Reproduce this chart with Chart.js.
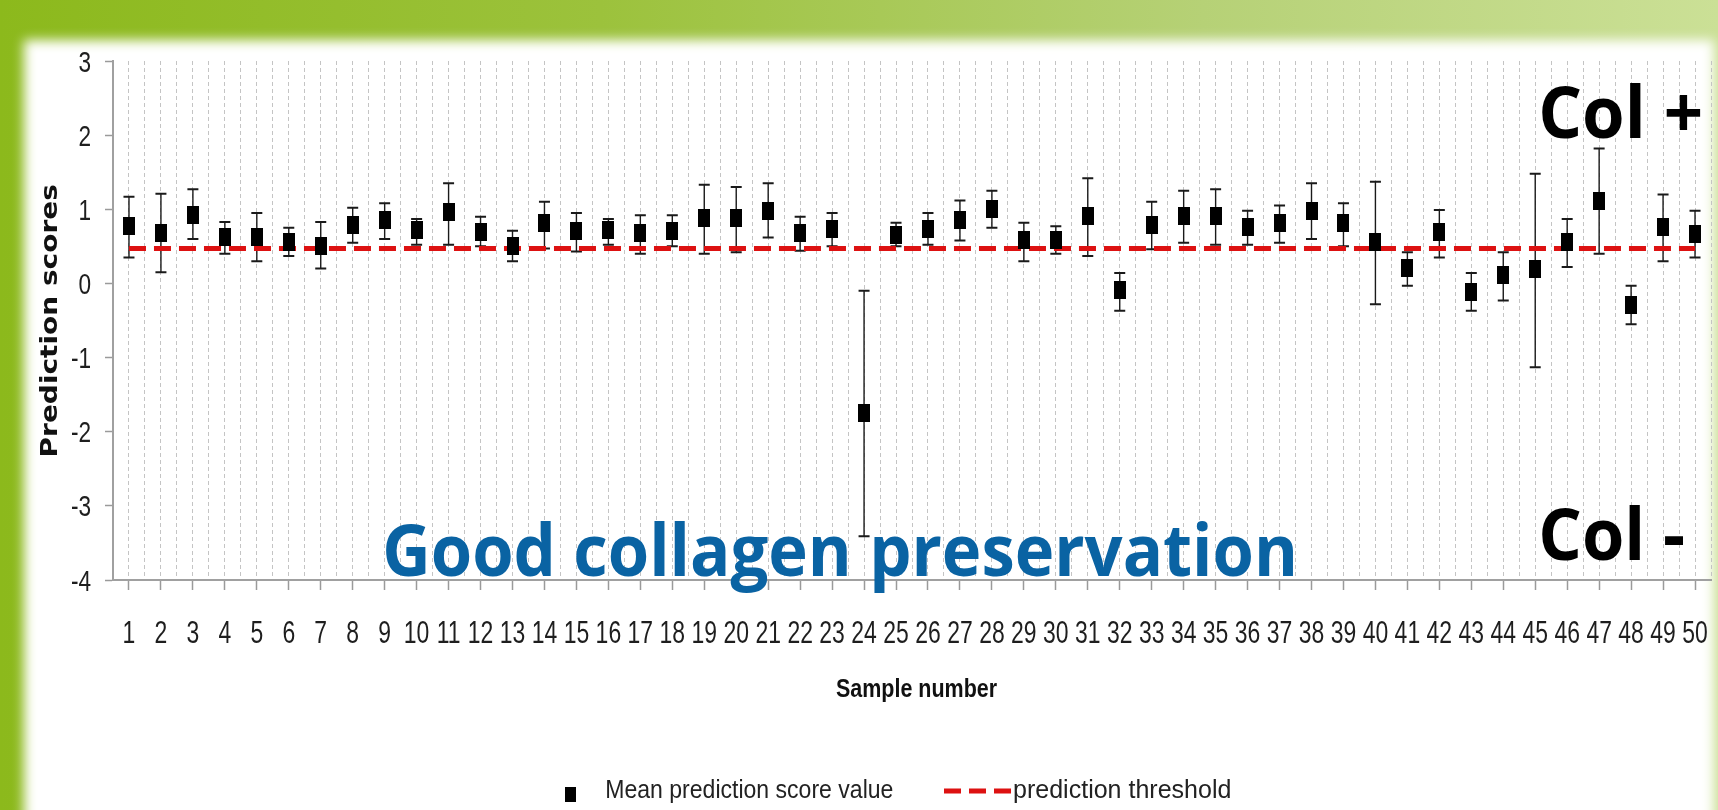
<!DOCTYPE html>
<html>
<head>
<meta charset="utf-8">
<script src="https://cdn.jsdelivr.net/npm/chart.js@4/dist/chart.umd.min.js"></script>
<style>
  html, body { margin: 0; padding: 0; }
  #frame {
    position: relative; width: 1718px; height: 810px; overflow: hidden;
    background: linear-gradient(to right, #8cb91c 0%, #9cc23c 35%, #b6d176 70%, #cbe096 100%);
  }
  #panel {
    position: absolute; left: 24px; top: 40px; width: 1690px; height: 820px;
    background: #fff; filter: blur(6px);
  }
  #chart { position: absolute; left: 0; top: 0; }
</style>
</head>
<body>
<div id="frame">
  <div id="panel"></div>
  <canvas id="chart" width="1718" height="810"></canvas>
</div>
<script>
// Sample numbers (x categories)
const sampleNumbers = [1, 2, 3, 4, 5, 6, 7, 8, 9, 10, 11, 12, 13, 14, 15, 16, 17, 18, 19, 20,
  21, 22, 23, 24, 25, 26, 27, 28, 29, 30, 31, 32, 33, 34, 35, 36, 37, 38, 39, 40,
  41, 42, 43, 44, 45, 46, 47, 48, 49, 50]

// Mean prediction score per sample
const meanScores = [0.78, 0.68, 0.92, 0.62, 0.63, 0.56, 0.50, 0.79, 0.86, 0.72,
  0.96, 0.69, 0.50, 0.82, 0.71, 0.72, 0.68, 0.71, 0.88, 0.88,
  0.98, 0.68, 0.73, -1.75, 0.65, 0.73, 0.86, 1.01, 0.59, 0.59,
  0.91, -0.09, 0.79, 0.91, 0.91, 0.76, 0.81, 0.98, 0.81, 0.56,
  0.21, 0.69, -0.12, 0.11, 0.19, 0.56, 1.11, -0.29, 0.76, 0.66]

// Error bar ends
const upperScores = [1.17, 1.21, 1.27, 0.83, 0.95, 0.75, 0.83, 1.02, 1.08, 0.87,
  1.35, 0.90, 0.71, 1.10, 0.95, 0.87, 0.92, 0.92, 1.33, 1.30,
  1.35, 0.90, 0.95, -0.10, 0.82, 0.95, 1.12, 1.25, 0.82, 0.77,
  1.42, 0.14, 1.10, 1.25, 1.27, 0.98, 1.05, 1.35, 1.08, 1.37,
  0.42, 0.99, 0.14, 0.42, 1.48, 0.87, 1.82, -0.03, 1.20, 0.98]
const lowerScores = [0.35, 0.15, 0.60, 0.40, 0.30, 0.37, 0.20, 0.55, 0.60, 0.52,
  0.52, 0.50, 0.30, 0.47, 0.43, 0.52, 0.40, 0.50, 0.40, 0.42,
  0.62, 0.44, 0.50, -3.41, 0.50, 0.52, 0.58, 0.75, 0.30, 0.40,
  0.37, -0.37, 0.46, 0.55, 0.52, 0.52, 0.55, 0.60, 0.50, -0.28,
  -0.03, 0.35, -0.37, -0.23, -1.13, 0.22, 0.40, -0.55, 0.30, 0.35]

const threshold = 0.47
const yTicks = [-4, -3, -2, -1, 0, 1, 2, 3]

const SANS = "'Liberation Sans', Arial, sans-serif"

// black rectangle marker (taller than wide, like the original)
function makeMarker(w, h) {
  const c = document.createElement("canvas")
  c.width = w
  c.height = h
  const g = c.getContext("2d")
  g.fillStyle = "#000"
  g.fillRect(0, 0, w, h)
  return c
}
const marker = makeMarker(12, 18)

// text squeezed/stretched so its ink covers a given width
function fitText(ctx, text, font, color, left, baseline, width) {
  ctx.save()
  ctx.font = font
  ctx.fillStyle = color
  ctx.textBaseline = "alphabetic"
  ctx.textAlign = "left"
  const m = ctx.measureText(text)
  const ink = m.actualBoundingBoxLeft + m.actualBoundingBoxRight
  ctx.translate(left, baseline)
  ctx.scale(width / ink, 1)
  ctx.fillText(text, m.actualBoundingBoxLeft, 0)
  ctx.restore()
}

// condensed text (the original uses a narrow face)
function narrowText(ctx, text, font, x, baseline, align, squeeze) {
  ctx.save()
  ctx.font = font
  ctx.fillStyle = "#1e1e1e"
  ctx.textBaseline = "alphabetic"
  ctx.textAlign = align
  ctx.translate(x, baseline)
  ctx.scale(squeeze, 1)
  ctx.fillText(text, 0, 0)
  ctx.restore()
}

const errorBars = {
  id: "errorBars",
  beforeDatasetsDraw(chart) {
    const { ctx, scales: { x, y } } = chart
    ctx.save()
    ctx.strokeStyle = "#1a1a1a"
    sampleNumbers.forEach((n, i) => {
      const px = x.getPixelForValue(n)
      const top = y.getPixelForValue(upperScores[i])
      const bot = y.getPixelForValue(lowerScores[i])
      ctx.lineWidth = 1.4
      ctx.beginPath()
      ctx.moveTo(px, top)
      ctx.lineTo(px, bot)
      ctx.stroke()
      ctx.lineWidth = 2
      ctx.beginPath()
      ctx.moveTo(px - 5.5, top)
      ctx.lineTo(px + 5.5, top)
      ctx.moveTo(px - 5.5, bot)
      ctx.lineTo(px + 5.5, bot)
      ctx.stroke()
    })
    ctx.restore()
  },
}

const labels = {
  id: "labels",
  afterDraw(chart) {
    const { ctx, scales: { x, y } } = chart

    // tick labels in a condensed face
    sampleNumbers.forEach((n) => {
      narrowText(ctx, String(n), "31px " + SANS, x.getPixelForValue(n), 643, "center", 0.74)
    })
    yTicks.forEach((v) => {
      narrowText(ctx, String(v), "29px " + SANS, 91, y.getPixelForValue(v) + 10.5, "right", 0.78)
    })

    const bold = "700 72px 'Open Sans', sans-serif"
    fitText(ctx, "Good collagen preservation", bold, "#0a63a3", 386, 576, 907)
    fitText(ctx, "Col +", bold, "#000", 1542, 138, 158)
    fitText(ctx, "Col -", bold, "#000", 1542, 560, 142)

    // axis titles
    fitText(ctx, "Sample number", "700 26px " + SANS, "#111", 836, 697, 161)
    ctx.save()
    ctx.translate(57, 455)
    ctx.rotate(-Math.PI / 2)
    fitText(ctx, "Prediction scores", "700 23px 'DejaVu Sans', sans-serif", "#111", 0, 0, 270)
    ctx.restore()

    // legend
    ctx.save()
    ctx.drawImage(makeMarker(11, 15), 565, 787)
    ctx.strokeStyle = "#dd1111"
    ctx.lineWidth = 5
    ctx.setLineDash([17, 8])
    ctx.beginPath()
    ctx.moveTo(944, 791)
    ctx.lineTo(1011, 791)
    ctx.stroke()
    ctx.restore()
    fitText(ctx, "Mean prediction score value", "26px " + SANS, "#222", 607, 798, 286)
    fitText(ctx, "prediction threshold", "26px " + SANS, "#222", 1014, 798, 216)
  },
}

new Chart(document.getElementById("chart"), {
  type: "scatter",
  data: {
    datasets: [
      {
        label: "Mean prediction score value",
        data: sampleNumbers.map((n, i) => ({ x: n, y: meanScores[i] })),
        pointStyle: marker,
        pointRadius: 6,
        showLine: false,
      },
      {
        label: "prediction threshold",
        type: "line",
        data: sampleNumbers.map((n) => ({ x: n, y: threshold })),
        borderColor: "#dd1111",
        borderWidth: 5,
        borderDash: [17, 8],
        pointRadius: 0,
        fill: false,
      },
    ],
  },
  options: {
    responsive: false,
    animation: false,
    layout: { padding: { left: 0, right: 1.5, top: 61, bottom: 0 } },
    plugins: { legend: { display: false }, tooltip: { enabled: false } },
    scales: {
      x: {
        type: "linear",
        min: 0.5,
        max: 50.5,
        afterFit: (scale) => { scale.height = 230 },
        grid: {
          color: "#c4c4c4",
          lineWidth: 1,
          tickLength: 10,
          tickWidth: 1.5,
          tickColor: (c) => (Number.isInteger(c.tick.value) ? "#9a9a9a" : "rgba(0,0,0,0)"),
        },
        border: { display: true, color: "#a0a0a0", width: 2, dash: [4, 3] },
        ticks: {
          stepSize: 0.5,
          autoSkip: false,
          maxRotation: 0,
          color: "rgba(0,0,0,0)",
          callback: (v) => (sampleNumbers.includes(v) ? String(v) : ""),
        },
      },
      y: {
        min: yTicks[0],
        max: yTicks[yTicks.length - 1],
        afterFit: (scale) => { scale.width = 113 },
        grid: { drawOnChartArea: false, tickLength: 8, tickWidth: 1.5, tickColor: "#9a9a9a" },
        border: { display: true, color: "#a0a0a0", width: 2 },
        ticks: { stepSize: 1, color: "rgba(0,0,0,0)" },
      },
    },
  },
  plugins: [errorBars, labels],
})
</script>
</body>
</html>
